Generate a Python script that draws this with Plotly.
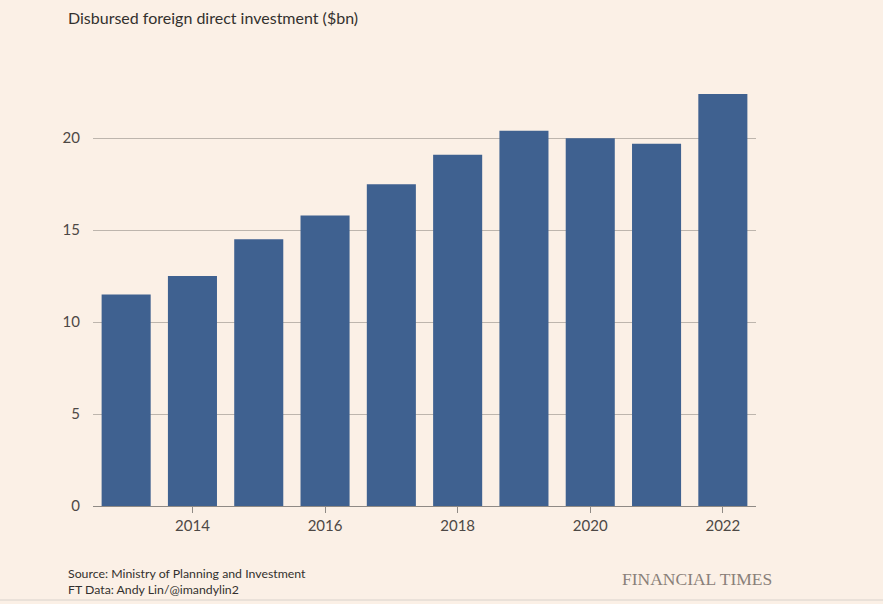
import plotly.graph_objects as go

years = [2013, 2014, 2015, 2016, 2017, 2018, 2019, 2020, 2021, 2022]
fdi_bn = [11.5, 12.5, 14.5, 15.8, 17.5, 19.1, 20.4, 20.0, 19.7, 22.4]
x_ticks = [2014, 2016, 2018, 2020, 2022]
y_ticks = [0, 5, 10, 15, 20]

title_text = "Disbursed foreign direct investment ($bn)"
source_lines = ["Source: Ministry of Planning and Investment", "FT Data: Andy Lin/@imandylin2"]
brand = "FINANCIAL TIMES"

BG = "#fbf0e6"
BAR = "#3f6190"
FONT = "Lato, 'Open Sans', sans-serif"

L, R, T, B = 93, 127, 83, 98
PW, PH = 883 - L - R, 604 - T - B

def px_x(x):
    return (x - L) / PW

def px_y(y):
    return (604 - B - y) / PH

fig = go.Figure()
fig.add_trace(go.Bar(x=years, y=fdi_bn, marker=dict(color=BAR, line=dict(width=0)), width=0.74))

fig.update_layout(
    width=883, height=604,
    paper_bgcolor=BG, plot_bgcolor=BG,
    margin=dict(l=L, r=R, t=T, b=B),
    showlegend=False,
    font=dict(family=FONT, color="#4d4845", size=15),
    xaxis=dict(range=[2012.5, 2022.5], tickvals=x_ticks, ticktext=[str(v) for v in x_ticks],
               showgrid=False, zeroline=False, showline=True, linecolor="#8f8a85", linewidth=1,
               ticks="outside", ticklen=6, tickcolor="#8f8a85", tickwidth=1,
               tickfont=dict(size=15, color="#4d4845")),
    yaxis=dict(range=[0, 23], tickvals=y_ticks, ticktext=[str(v) for v in y_ticks],
               showgrid=True, gridcolor="#bdb5ad", gridwidth=1, zeroline=False,
               showline=False, ticks="", ticklabelstandoff=12,
               tickfont=dict(size=15, color="#4d4845")),
)

fig.add_annotation(text=title_text, xref="paper", yref="paper", x=px_x(66), y=px_y(18),
                   xanchor="left", yanchor="middle", showarrow=False,
                   font=dict(size=16, color="#33302e", family=FONT))
fig.add_annotation(text="<br>".join(source_lines), xref="paper", yref="paper",
                   x=px_x(66), y=px_y(581), xanchor="left", yanchor="middle",
                   align="left", showarrow=False,
                   font=dict(size=12.3, color="#33302e", family=FONT))
fig.add_annotation(text=brand, xref="paper", yref="paper",
                   x=px_x(774), y=px_y(579), xanchor="right", yanchor="middle",
                   showarrow=False,
                   font=dict(size=17.5, color="#8a8079", family="'Liberation Serif', 'DejaVu Serif', serif"))
fig.add_shape(type="line", xref="paper", yref="paper", x0=px_x(0), x1=px_x(883),
              y0=px_y(600), y1=px_y(600), line=dict(color="#d8d2cc", width=1))

fig.write_html("out.html", config={"displayModeBar": False},
               post_script="document.body.style.margin='0';document.body.style.overflow='hidden';")
